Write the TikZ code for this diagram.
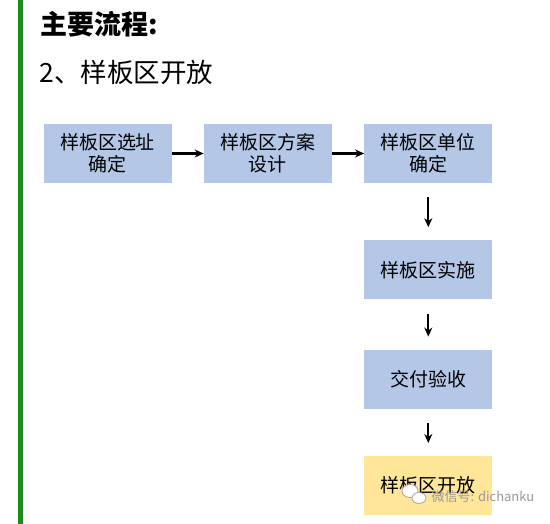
\documentclass[tikz,border=0pt]{standalone}
\usepackage{fontspec}
\setmainfont{Noto Sans CJK SC}
\usetikzlibrary{positioning, arrows.meta}
\definecolor{boxblue}{HTML}{B4C7E7}
\definecolor{boxyellow}{HTML}{FFE699}
\definecolor{barGreen}{HTML}{1A8C1E}

\begin{document}
\begin{tikzpicture}[x=1pt, y=-1pt,
        box/.style={rectangle, align=center, minimum width=128pt, minimum height=59pt, fill=boxblue, inner sep=0pt, font=\fontsize{19}{22}\selectfont},
        arrow/.style={-{Stealth[length=9pt, width=8pt]}, line width=2.3pt},
        down/.style={arrow, shorten <=14pt, shorten >=13pt}
    ]
    \useasboundingbox (0,0) rectangle (550,524);
    \fill[white] (0,0) rectangle (550,524);
    \fill[barGreen] (18,0) rectangle (23,524);

    \node[anchor=west, font=\fontsize{27}{30}\selectfont\bfseries] (title) at (37,24) {主要流程:};
    \node[anchor=west, font=\fontsize{26.5}{30}\selectfont] (sub) at (36,72) {2、样板区开放};

    \node[box] (site) at (107.5,153.5) {样板区选址\\确定};
    \node[box, right=32pt of site] (plan) {样板区方案\\设计};
    \node[box, right=32pt of plan] (unit) {样板区单位\\确定};
    \node[box, below=57pt of unit] (build) {样板区实施};
    \node[box, below=50pt of build] (accept) {交付验收};
    \node[box, below=47pt of accept, fill=boxyellow] (open) {样板区开放};

    \draw[arrow] (site) -- (plan);
    \draw[arrow] (plan) -- (unit);
    \draw[down] (unit) -- (build);
    \draw[down] (build) -- (accept);
    \draw[down] (accept) -- (open);

    % watermark
    \draw[gray!70, line width=0.8pt, fill=white] (410,491) ellipse (8pt and 6.5pt);
    \draw[gray!70, line width=0.8pt, fill=white] (419,498) ellipse (7pt and 5.5pt);
    \node[anchor=west, text=gray!80, font=\fontsize{13}{15}\selectfont] (mark) at (428,497) {微信号: dichanku};
\end{tikzpicture}
\end{document}
